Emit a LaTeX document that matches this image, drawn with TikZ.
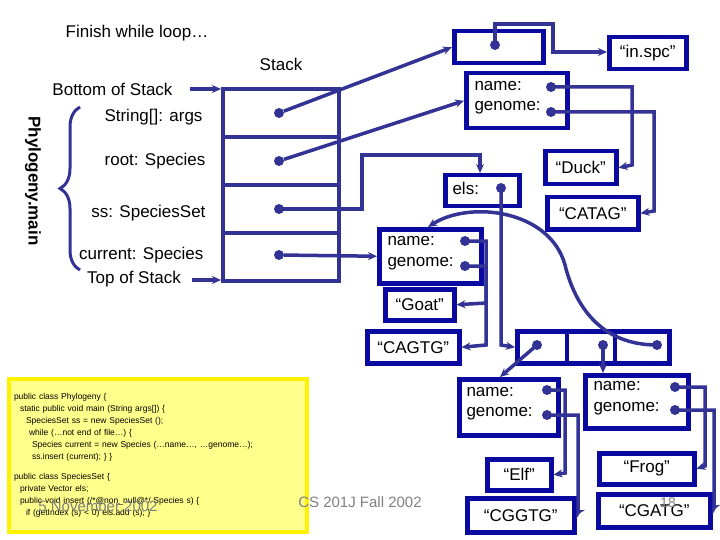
\documentclass[tikz,border=0pt]{standalone}
\usepackage{fontspec}
\setmainfont{Liberation Sans}
\usetikzlibrary{arrows.meta,decorations.pathreplacing}
\definecolor{ln}{RGB}{51,51,150}
\definecolor{bx}{RGB}{10,10,160}
\definecolor{codebg}{RGB}{255,255,140}
\begin{document}
\begin{tikzpicture}[x=1pt,y=-1pt,
  txt/.style={font=\fontsize{17}{19}\selectfont},
  obj/.style={draw=bx,line width=4.5pt,inner sep=0pt,anchor=north west},
  ref/.style={draw=ln,line width=3.5pt,-{Stealth[length=9pt,width=8pt]}},
  dot/.style={circle,fill=ln,inner sep=0pt,minimum size=10pt}]
\useasboundingbox (0,0) rectangle (720,540);
% titles
\node[txt] (title) at (137,33) {Finish while loop\dots};
\node[txt] (stk) at (281,64) {Stack};
\node[txt,anchor=east] (bot) at (176,89) {Bottom of Stack};
\node[txt] (top) at (134,279) {Top of Stack};
\coordinate (botE) at (190,89);
\coordinate (topE) at (192,280);
% stack frame
\draw[ln,line width=4pt] (223,89) rectangle (339,281);
\foreach \y in {137,185,233} \draw[ln,line width=4pt] (223,\y) -- (339,\y);
\coordinate (stkB) at (221,89);
\coordinate (stkT) at (221,280);
\draw[ref] (botE) -- (stkB);
\draw[ref] (topE) -- (stkT);
\node[txt,anchor=east] (l1) at (206,117) {String[]: args};
\node[txt,anchor=east] (l2) at (209,161) {root: Species};
\node[txt,anchor=east] (l3) at (209,213) {ss: SpeciesSet};
\node[txt,anchor=east] (l4) at (207,255) {current: Species};
\node[dot] (s1) at (279,113) {};
\node[dot] (s2) at (279,161) {};
\node[dot] (s3) at (279,209) {};
\node[dot] (s4) at (279,255) {};
\draw[ln,line width=3pt,decorate,decoration={brace,amplitude=20pt,mirror}] (80,107) -- (80,270);
\node[font=\bfseries\fontsize{17}{19}\selectfont,rotate=-90] (phy) at (33,181) {Phylogeny.main};
% string array object
\node[obj,minimum width=89pt,minimum height=32pt] (arr) at (452,29) {};
\node[dot] (ad) at (495,45) {};
\node[obj,txt,minimum width=77pt,minimum height=32pt] (inspc) at (607,35) {``in.spc''};
\draw[ref] (s1) -- (arr.west);
\draw[ref] (ad.center) -- (495,24) -- (553,24) -- (553,52) -- (inspc.west |- 0,52);
% root species
\node[obj,minimum width=101pt,minimum height=55pt] (root) at (464,71) {};
\node[txt,anchor=west] (rn) at (471,86) {name:};
\node[txt,anchor=west] (rg) at (471,108) {genome:};
\node[dot] (rnd) at (551,87) {};
\node[dot] (rgd) at (551,112) {};
\node[obj,txt,minimum width=71pt,minimum height=33pt] (duck) at (543,149) {``Duck''};
\node[obj,txt,minimum width=91pt,minimum height=32pt] (catag) at (545,195) {``CATAG''};
\draw[ref] (s2) -- (root.west);
\draw[ref] (rnd.center) -- (632,87) -- (632,165) -- (duck.east);
\draw[ref] (rgd.center) -- (654,112) -- (654,211) -- (catag.east);
% species set
\node[obj,minimum width=74pt,minimum height=31pt] (els) at (443,173) {};
\node[txt,anchor=west] (elst) at (449,188) {els:};
\node[dot] (elsd) at (501,188) {};
\draw[ref] (s3.center) -- (362,209) -- (362,155) -- (480,155) -- (els.north -| 480,0);
% vector
\node[obj,minimum width=152pt,minimum height=32pt] (vec) at (515,329) {};
\draw[bx,line width=4.5pt] (567,329) -- (567,361) (615,329) -- (615,361);
\node[dot] (v1) at (537,345) {};
\node[dot] (v2) at (603,345) {};
\node[dot] (v3) at (657,345) {};
\draw[ref] (elsd.center) -- (501,345) -- (vec.west);
% goat
\node[obj,minimum width=102pt,minimum height=54pt] (goat) at (377,227) {};
\node[txt,anchor=west] (gn) at (384,241) {name:};
\node[txt,anchor=west] (gg) at (384,264) {genome:};
\node[dot] (gnd) at (465,241) {};
\node[dot] (ggd) at (465,266) {};
\node[obj,txt,minimum width=69pt,minimum height=31pt] (goatS) at (383,287) {``Goat''};
\node[obj,txt,minimum width=92pt,minimum height=32pt] (cagtg) at (365,329) {``CAGTG''};
\draw[ref] (s4) -- (goat.west);
\draw[ref] (gnd.center) -- (486,241) -- (486,303) -- (goatS.east);
\draw[ref] (ggd.center) -- (486,266) -- (486,345) -- (cagtg.east);
\draw[ref] (v3.center) .. controls (600,345) and (575,305) .. (565,265)
  .. controls (550,210) and (470,200) .. (goat.north -| 428,0);
% elf
\node[obj,minimum width=99pt,minimum height=56pt] (elf) at (457,377) {};
\node[txt,anchor=west] (en) at (463,392) {name:};
\node[txt,anchor=west] (eg) at (463,414) {genome:};
\node[dot] (end) at (547,390) {};
\node[dot] (egd) at (547,415) {};
\node[obj,txt,minimum width=64pt,minimum height=31pt] (elfS) at (485,457) {``Elf''};
\node[obj,txt,minimum width=107pt,minimum height=34pt] (cggtg) at (465,496) {``CGGTG''};
\draw[ref] (v1.center) -- (500,377);
\draw[ref] (end.center) -- (565,390) -- (565,473) -- (elfS.east);
\draw[ref] (egd.center) -- (578,415) -- (578,513) -- (cggtg.east);
% frog
\node[obj,minimum width=103pt,minimum height=53pt] (frog) at (583,373) {};
\node[txt,anchor=west] (fn) at (590,386) {name:};
\node[txt,anchor=west] (fg) at (590,409) {genome:};
\node[dot] (fnd) at (675,387) {};
\node[dot] (fgd) at (675,410) {};
\node[obj,txt,minimum width=95pt,minimum height=31pt] (frogS) at (597,451) {``Frog''};
\node[obj,txt,minimum width=112pt,minimum height=33pt] (cgatg) at (596,492) {``CGATG''};
\draw[ref] (v2.center) -- (frog.north -| v2);
\draw[ref] (fnd.center) -- (705,387) -- (705,466) -- (frogS.east);
\draw[ref] (fgd.center) -- (714,410) -- (714,508) -- (cgatg.east);
% code
\node[draw=yellow,line width=4pt,fill=codebg,anchor=north west,minimum width=296pt,minimum height=153pt,
  align=left,font=\fontsize{8.5}{12}\selectfont,text width=288pt,inner sep=5pt] (code) at (7,377) {%
public class Phylogeny \{\\
\hspace*{6pt}static public void main (String args[]) \{\\
\hspace*{12pt}SpeciesSet ss = new SpeciesSet ();\\
\hspace*{15pt}while (\dots not end of file\dots) \{\\
\hspace*{18pt}Species current = new Species (\dots name\dots, \dots genome\dots);\\
\hspace*{18pt}ss.insert (current); \} \}\\[8pt]
public class SpeciesSet \{\\
\hspace*{6pt}private Vector els;\\
\hspace*{6pt}public void insert (/*@non\_null@*/ Species s) \{\\
\hspace*{12pt}if (getIndex (s) < 0) els.add (s); \}};
% footer
\node[text=gray,font=\fontsize{15}{17}\selectfont] (date) at (98,506) {5 November 2002};
\node[text=gray,font=\fontsize{15}{17}\selectfont] (course) at (360,502) {CS 201J Fall 2002};
\node[text=gray,font=\fontsize{14}{16}\selectfont] (pg) at (668,503) {18};
\end{tikzpicture}
\end{document}
